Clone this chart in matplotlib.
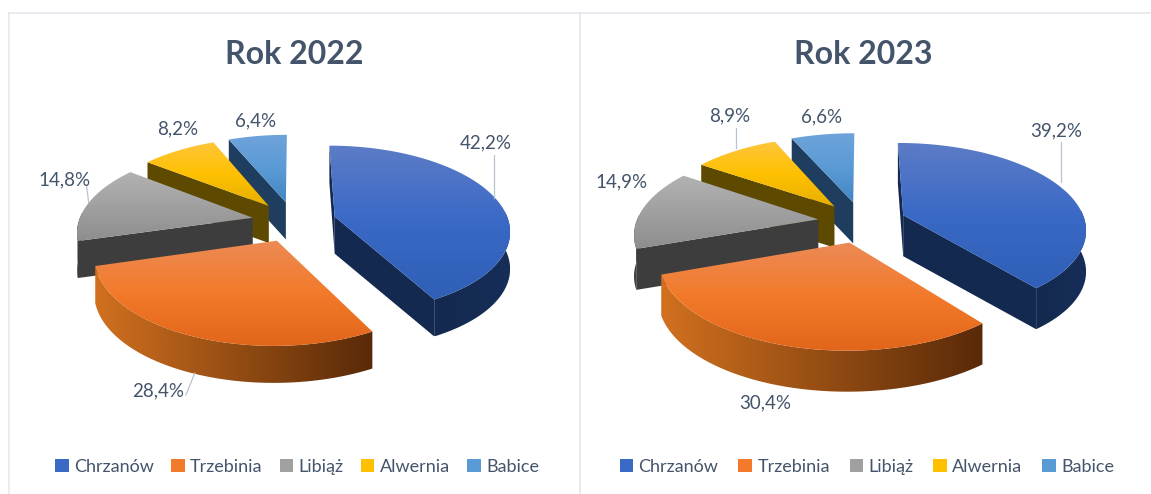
import numpy as np
import matplotlib
matplotlib.use("Agg")
import matplotlib.pyplot as plt
from matplotlib.colors import LinearSegmentedColormap
from matplotlib.patches import Patch, Polygon

plt.rcParams["font.family"] = ["Lato", "DejaVu Sans"]

W, H = 1151, 494
TEXT = "#44546a"
FRAME = "#e4e8ee"

towns = ["Chrzanów", "Trzebinia", "Libiąż", "Alwernia", "Babice"]
title_2022 = "Rok 2022"
title_2023 = "Rok 2023"
values_2022 = [42.2, 28.4, 14.8, 8.2, 6.4]
values_2023 = [39.2, 30.4, 14.9, 8.9, 6.6]

# top face gradient, side colour, rim colours left/right
top_colors = [
    ["#5c7cc6", "#3a69c6", "#2f5fb6"],
    ["#ec8a55", "#f37a2a", "#e2661a"],
    ["#b2b2b2", "#a0a0a0", "#8e8e8e"],
    ["#fdc63a", "#ffc000", "#e6b000"],
    ["#6ea3da", "#5b9bd5", "#4486c4"],
]
side_colors = ["#14294f", "#5c2c08", "#3d3d3d", "#5e4900", "#1f3d5e"]
rim_colors = [
    ("#14294f", "#162e58"),
    ("#d0701f", "#5a2a08"),
    ("#3d3d3d", "#3d3d3d"),
    ("#5e4900", "#5e4900"),
    ("#1f3d5e", "#1f3d5e"),
]
draw_order = [4, 3, 2, 0, 1]

EXPLODE = 0.243
PERSP = 0.15


def project(theta, r, bis, geo):
    # theta clockwise from 12 o'clock, slice pushed out along its bisector
    X = r * np.sin(theta) + EXPLODE * np.sin(bis)
    Y = r * np.cos(theta) + EXPLODE * np.cos(bis)
    s = 1 / (1 + PERSP * Y)
    return geo["cx"] + geo["a"] * X * s, geo["cy"] - geo["b"] * Y * s


def fill_gradient(ax, outline, colors, z, horizontal=False):
    clip = Polygon(outline, closed=True, transform=ax.transData, fc="none", ec="none")
    ax.add_patch(clip)
    cmap = LinearSegmentedColormap.from_list("grad", colors)
    xs = [q[0] for q in outline]
    ys = [q[1] for q in outline]
    ramp = np.linspace(0, 1, 64).reshape(1, -1) if horizontal else np.linspace(0, 1, 64).reshape(-1, 1)
    im = ax.imshow(ramp, cmap=cmap, aspect="auto", origin="upper",
                   extent=(min(xs), max(xs), max(ys), min(ys)), zorder=z,
                   interpolation="bilinear")
    im.set_clip_path(clip)


def draw_pie(ax, values, geo, label_off, leader_off):
    shares = np.array(values) / sum(values)
    edges = np.concatenate([[0], np.cumsum(shares)]) * 2 * np.pi
    z = 2
    for i in draw_order:
        t0, t1 = edges[i], edges[i + 1]
        bis = (t0 + t1) / 2
        d = geo["depth"]
        apex = project(t0, 0, bis, geo)

        # radial walls, only the ones turned to the viewer
        for t, visible in [(t0, np.sin(t0) <= 1e-9), (t1, np.sin(t1) > 1e-9)]:
            if not visible:
                continue
            p = project(t, 1, bis, geo)
            ax.add_patch(Polygon([apex, p, (p[0], p[1] + d), (apex[0], apex[1] + d)],
                                 closed=True, fc=side_colors[i], ec="none", zorder=z))
            z += 1

        # rim, front part only
        ts = np.linspace(t0, t1, 120)
        px, py = project(ts, 1, bis, geo)
        front = np.cos(ts) < 0.06
        if front.sum() > 1:
            fx, fy = px[front], py[front]
            rim = list(zip(fx, fy)) + list(zip(fx[::-1], fy[::-1] + d))
            fill_gradient(ax, rim, rim_colors[i], z, horizontal=True)
            z += 1

        # top face with a vertical gradient
        fill_gradient(ax, [apex] + list(zip(px, py)), top_colors[i], z)
        z += 1

    # labels and leader lines hang off the rim point at each bisector
    for i, v in enumerate(values):
        bis = (edges[i] + edges[i + 1]) / 2
        rx, ry = project(bis, 1, bis, geo)
        lab = f"{v:.1f}%".replace(".", ",")
        ax.text(rx + label_off[i][0], ry + label_off[i][1], lab, color=TEXT, fontsize=13.5,
                ha="center", va="center", zorder=50)
        if leader_off[i] is not None:
            (x0, y0), (x1, y1) = leader_off[i]
            ax.plot([rx + x0, rx + x1], [ry + y0, ry + y1], color="#b8c2d0", lw=0.9, zorder=49)


def setup_panel(fig, x0, x1):
    ax = fig.add_axes([x0 / W, 0, (x1 - x0) / W, (H - 13) / H])
    ax.set_xticks([])
    ax.set_yticks([])
    for name, sp in ax.spines.items():
        sp.set_color(FRAME)
        sp.set_linewidth(1.2)
        sp.set_visible(name == "top" or name == "left")
    return ax


def finish_panel(ax, x0, x1, title, title_x, legend_x, col_space):
    ax.set_xlim(x0, x1)
    ax.set_ylim(H, 13)
    ax.text(title_x, 55, title, color=TEXT, fontsize=23, fontweight="bold",
            ha="center", va="center")
    handles = [Patch(fc=c[1], ec="none") for c in top_colors]
    ax.legend(handles, towns, loc="center", bbox_to_anchor=(legend_x, 467),
              bbox_transform=ax.transData, ncol=5, frameon=False, fontsize=13,
              labelcolor=TEXT, handlelength=0.75, handleheight=0.75, handletextpad=0.3,
              columnspacing=col_space, borderpad=0, borderaxespad=0)


fig = plt.figure(figsize=(W / 100, H / 100), dpi=100, facecolor="white")

geo_2022 = {"cx": 294, "cy": 221.5, "a": 174, "b": 83, "depth": 37}
geo_2023 = {"cx": 862, "cy": 222, "a": 182, "b": 85, "depth": 41}

ax1 = setup_panel(fig, 9, 580)
draw_pie(ax1, values_2022, geo_2022,
         [(-9, -55), (-34, 55), (-24, -23), (-1, -22), (-2, -15)],
         [((-1, 0), (-1, -43)), ((3, 37), (-6, 59)), ((-2, -16), (0, 0)), None, None])
finish_panel(ax1, 9, 580, title_2022, 294, 297, 0.95)

ax2 = setup_panel(fig, 580, W)
draw_pie(ax2, values_2023, geo_2023,
         [(-7, -58), (-22, 57), (-21, -27), (-6, -35), (-1, -18)],
         [((-2, -7), (-2, -47)), None, None, ((1, -23), (1, -3)), None])
finish_panel(ax2, 580, W, title_2023, 863, 867, 1.1)

fig.savefig("out.png", dpi=100)
